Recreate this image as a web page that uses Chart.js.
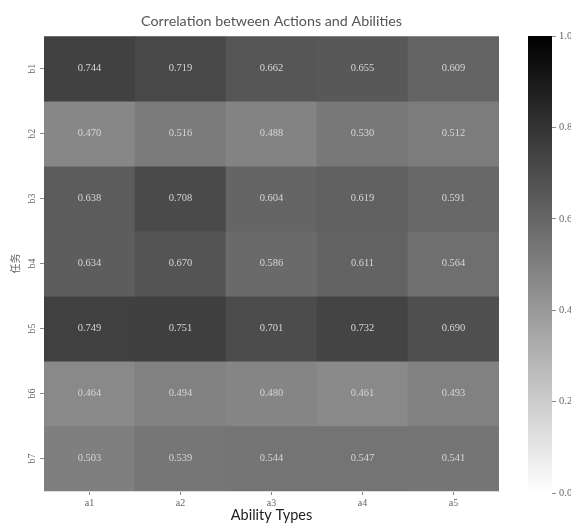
<!DOCTYPE html>
<html><head><meta charset="utf-8">
<script src="https://cdn.jsdelivr.net/npm/chart.js@4.4.1/dist/chart.umd.min.js"></script>
<style>
html,body{margin:0;padding:0;background:#fff;overflow:hidden;width:571px;height:524px;}
#wrap{position:relative;width:571px;height:524px;overflow:hidden;background:#fff;}
#main{position:absolute;left:0;top:0;}
#cb{position:absolute;left:520px;top:0;}
</style></head><body>
<div id="wrap"><canvas id="main" width="520" height="524"></canvas><canvas id="cb" width="64" height="524"></canvas></div>
<script>
// ---- data ----
const abilityTypes = ['a1','a2','a3','a4','a5'];
const actionTypes = ['b1','b2','b3','b4','b5','b6','b7'];
const b1 = [0.744, 0.719, 0.662, 0.655, 0.609];
const b2 = [0.470, 0.516, 0.488, 0.530, 0.512];
const b3 = [0.638, 0.708, 0.604, 0.619, 0.591];
const b4 = [0.634, 0.670, 0.586, 0.611, 0.564];
const b5 = [0.749, 0.751, 0.701, 0.732, 0.690];
const b6 = [0.464, 0.494, 0.480, 0.461, 0.493];
const b7 = [0.503, 0.539, 0.544, 0.547, 0.541];
const rows = [b1, b2, b3, b4, b5, b6, b7];
const colorbarMin = 0.0;
const colorbarMax = 1.0;
const colorbarStep = 0.2;

function grayFor(v) {
  const t = (v - colorbarMin) / (colorbarMax - colorbarMin);
  const g = Math.round(255 * (1 - t));
  return `rgb(${g},${g},${g})`;
}

const cellLabels = {
  id: 'cellLabels',
  afterDatasetsDraw(chart) {
    const ctx = chart.ctx;
    ctx.save();
    ctx.font = '10.5px "Liberation Serif"';
    ctx.fillStyle = '#d6d6d6';
    ctx.textAlign = 'center';
    ctx.textBaseline = 'middle';
    chart.data.datasets.forEach((ds, di) => {
      const meta = chart.getDatasetMeta(di);
      meta.data.forEach((el, i) => {
        const p = el.getProps(['x', 'y', 'base'], true);
        ctx.fillText(ds.values[i].toFixed(3), p.x, (p.y + p.base) / 2);
      });
    });
    ctx.restore();
  }
};

const datasets = rows.map((vals, r) => ({
  label: actionTypes[r],
  values: vals,
  data: vals.map(() => [r, r + 1]),
  backgroundColor: vals.map(grayFor),
  borderWidth: 0,
  barPercentage: 1,
  categoryPercentage: 1,
  grouped: false
}));

new Chart(document.getElementById('main'), {
  type: 'bar',
  data: { labels: abilityTypes, datasets },
  options: {
    responsive: false,
    animation: false,
    layout: { padding: { left: 0, right: 21, top: 0, bottom: 0 } },
    plugins: {
      legend: { display: false },
      tooltip: { enabled: false },
      title: {
        display: true,
        text: 'Correlation between Actions and Abilities',
        fullSize: false,
        color: '#555',
        font: { family: 'Lato', size: 14.3, weight: 'normal', lineHeight: 1.2 },
        padding: { top: 13, bottom: 6 }
      }
    },
    scales: {
      x: {
        type: 'category',
        offset: true,
        afterFit(s) { s.height = 33; },
        grid: { offset: false, drawOnChartArea: false, tickLength: 4, color: '#888' },
        border: { display: true, color: '#ddd' },
        ticks: { color: '#666', font: { family: 'Liberation Serif', size: 10 }, padding: 2 },
        title: { display: true, text: 'Ability Types', color: '#222', font: { family: 'Lato', size: 14.5 }, padding: 0 }
      },
      y: {
        type: 'linear',
        min: 0, max: actionTypes.length,
        reverse: true,
        afterFit(s) { s.width = 44; },
        afterBuildTicks(s) { s.ticks = actionTypes.map((_, i) => ({ value: i + 0.5 })); },
        grid: { drawOnChartArea: false, tickLength: 4, color: '#888' },
        border: { display: true, color: '#ddd' },
        ticks: {
          minRotation: 90, maxRotation: 90, crossAlign: 'center',
          color: '#666', font: { family: 'Liberation Serif', size: 10 }, padding: 3,
          callback: (v, i) => actionTypes[i]
        },
        title: { display: true, text: '任务', color: '#666', font: { family: 'Noto Sans CJK SC', size: 10 }, padding: { top: 9, bottom: 0 } }
      }
    }
  },
  plugins: [cellLabels]
});

new Chart(document.getElementById('cb'), {
  type: 'bar',
  data: { labels: [''], datasets: [{
    data: [[colorbarMin, colorbarMax]],
    borderWidth: 0, barPercentage: 1, categoryPercentage: 1,
    backgroundColor: (c) => {
      const chart = c.chart;
      if (!chart.chartArea) return '#888';
      const y = chart.scales.y;
      const g = chart.ctx.createLinearGradient(0, y.getPixelForValue(colorbarMin), 0, y.getPixelForValue(colorbarMax));
      g.addColorStop(0, '#ffffff');
      g.addColorStop(1, '#000000');
      return g;
    }
  }] },
  options: {
    responsive: false,
    animation: false,
    layout: { padding: { left: 8, right: 0, top: 36, bottom: 31 } },
    plugins: { legend: { display: false }, tooltip: { enabled: false } },
    scales: {
      x: { display: false, offset: true },
      y: {
        position: 'right',
        min: colorbarMin, max: colorbarMax,
        afterFit(s) { s.width = 32; },
        grid: { drawOnChartArea: false, tickLength: 4, color: '#888' },
        border: { display: false },
        ticks: { stepSize: colorbarStep, color: '#666', font: { family: 'Liberation Serif', size: 10.5 }, padding: 3,
          callback: (v) => Number(v).toFixed(1) }
      }
    }
  }
});
</script>
</body></html>
